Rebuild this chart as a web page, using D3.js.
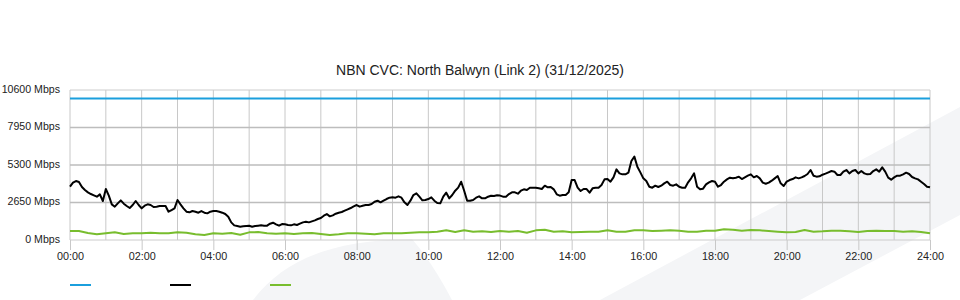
<!DOCTYPE html>
<html>
<head>
<meta charset="utf-8">
<script src="https://cdn.jsdelivr.net/npm/d3@7"></script>
<style>
  body { margin: 0; background: #fff; }
  svg { display: block; font-family: "Liberation Sans", Arial, sans-serif; }
</style>
</head>
<body>
<svg id="chart" width="960" height="300"></svg>
<script>
// chart data
var title = "NBN CVC: North Balwyn (Link 2) (31/12/2025)";

var xTickMinutes = [0, 120, 240, 360, 480, 600, 720, 840, 960, 1080, 1200, 1320, 1440];
var xTickLabels = ["00:00", "02:00", "04:00", "06:00", "08:00", "10:00", "12:00",
                   "14:00", "16:00", "18:00", "20:00", "22:00", "24:00"];
var yTicks = [0, 2650, 5300, 7950, 10600];

// link capacity (Mbps), flat all day
var capacityMinutes = [0, 1440];
var capacity = [10000, 10000];

// download traffic (Mbps), one sample every 5 minutes
var downStep = 5;
var download = [
  3768, 4051, 4169, 4098, 3744, 3532, 3368, 3250, 3156, 3061, 3226, 2755, 3603, 3132, 2520, 2355,
  2590, 2802, 2567, 2402, 2260, 2472, 2755, 2472, 2237, 2425, 2520, 2472, 2331, 2355, 2402, 2402,
  2402, 2001, 2119, 2237, 2826, 2520, 2237, 2001, 1954, 2048, 2001, 1930, 2048, 1930, 1883, 2001, 2048,
  2048, 2001, 1930, 1836, 1648, 1247, 1035, 988, 941, 965, 988, 1012, 941, 988, 1012, 1035,
  1012, 1012, 1153, 1224, 1106, 1012, 1130, 1106, 1059, 1035, 1106, 1059, 1153, 1247, 1294, 1247,
  1318, 1389, 1483, 1554, 1718, 1836, 1671, 1742, 1860, 1930, 1977, 2072, 2166, 2260, 2378, 2472,
  2355, 2425, 2472, 2472, 2543, 2708, 2778, 2661, 2778, 2896, 2991, 3014, 2991, 3085, 2991, 2661,
  2472, 2778, 3179, 3297, 3061, 2802, 2826, 2896, 3014, 2778, 2614, 2590, 3061, 3344, 2944, 3179,
  3485, 3700, 4120, 3480, 2778, 2778, 2826, 2991, 3085, 2944, 2944, 3061, 3132, 3109, 3156, 3140,
  3061, 3061, 3250, 3368, 3368, 3273, 3485, 3580, 3532, 3697, 3697, 3697, 3650, 3603, 3839, 3721,
  3744, 3580, 3226, 3132, 3179, 3179, 3368, 4239, 4239, 3697, 3462, 3603, 3603, 3344, 3650, 3697,
  3697, 3886, 4286, 4310, 4121, 4428, 4993, 4710, 4640, 4640, 4757, 5582, 5890, 5182, 4781, 4357,
  4168, 3768, 3697, 3839, 3744, 3839, 4004, 4121, 3886, 3839, 3933, 3768, 3697, 3697, 4074, 4357,
  4710, 3768, 3580, 3627, 3933, 4074, 4168, 4121, 3768, 3886, 4121, 4286, 4404, 4357, 4404, 4475,
  4310, 4428, 4545, 4640, 4428, 4522, 4357, 4051, 3980, 4051, 4192, 4357, 4522, 4004, 3815, 4121,
  4239, 4310, 4428, 4357, 4428, 4522, 4663, 4946, 4545, 4475, 4498, 4616, 4687, 4781, 4875, 4828,
  4592, 4592, 4828, 4946, 4710, 4875, 4946, 4710, 4875, 4710, 4640, 4663, 4875, 4993, 4828, 5135,
  4828, 4404, 4263, 4428, 4545, 4545, 4640, 4757, 4663, 4451, 4357, 4286, 4121, 3957, 3768, 3721
];

// upload traffic (Mbps), one sample every 15 minutes
var upStep = 15;
var upload = [
  635, 635, 493, 399, 470, 540, 423, 470, 470, 517, 470, 470, 540, 517, 399, 352, 470,
  446, 493, 376, 540, 560, 470, 446, 470, 423, 470, 493, 423, 352, 399, 470, 470,
  446, 399, 470, 470, 470, 517, 540, 540, 588, 682, 564, 682, 588, 611, 564, 635,
  588, 635, 517, 682, 729, 588, 611, 540, 564, 588, 588, 682, 588, 588, 682, 682,
  635, 658, 682, 658, 588, 588, 658, 658, 752, 729, 658, 705, 682, 635, 588, 540,
  564, 705, 588, 611, 658, 658, 611, 564, 635, 658, 635, 635, 588, 611, 564, 470
];

var colors = ["#1b9fdd", "#000000", "#78bd2e"];

(function () {
  var svg = d3.select("#chart");
  var plotLeft = 70, plotRight = 930, plotTop = 90, plotBottom = 240;

  var x = d3.scaleLinear().domain([0, 1440]).range([plotLeft, plotRight]);
  var y = d3.scaleLinear().domain([0, 10600]).range([plotBottom, plotTop]);

  // faint background swooshes
  var bg = svg.append("g").attr("fill", "#f4f5f7");
  bg.append("path").attr("d", "M253,300 C285,258 335,240 412,239 Q432,262 452,300 Z");
  bg.append("path").attr("d", "M600,300 L960,107 L960,215 L800,300 Z");

  // title
  svg.append("text")
     .attr("x", 480)
     .attr("y", 75)
     .attr("text-anchor", "middle")
     .style("font-size", "14px")
     .style("fill", "#222")
     .text(title);

  // hourly vertical grid
  var grid = svg.append("g");
  grid.selectAll("line.v")
      .data(d3.range(0, 1441, 60))
      .enter()
      .append("line")
      .attr("class", "v")
      .attr("x1", function (d) { return x(d); })
      .attr("x2", function (d) { return x(d); })
      .attr("y1", plotTop)
      .attr("y2", plotBottom)
      .attr("stroke", "#c8c8c8")
      .attr("stroke-width", 1);

  // horizontal grid
  grid.selectAll("line.h")
      .data(yTicks)
      .enter()
      .append("line")
      .attr("class", "h")
      .attr("x1", plotLeft)
      .attr("x2", plotRight)
      .attr("y1", function (d) { return y(d); })
      .attr("y2", function (d) { return y(d); })
      .attr("stroke", function (d, i) { return (i == 0 || i == yTicks.length - 1) ? "#cccccc" : "#bdbdbd"; })
      .attr("stroke-width", function (d, i) { return (i == 0 || i == yTicks.length - 1) ? 1 : 1.6; });

  // axes
  var xAxis = svg.append("g")
     .attr("transform", "translate(0," + plotBottom + ")")
     .call(d3.axisBottom(x)
            .tickValues(xTickMinutes)
            .tickSize(10)
            .tickPadding(3)
            .tickFormat(function (d, i) { return xTickLabels[i]; }));

  var yAxis = svg.append("g")
     .attr("transform", "translate(" + plotLeft + ",0)")
     .call(d3.axisLeft(y)
            .tickValues(yTicks)
            .tickSize(0)
            .tickPadding(10)
            .tickFormat(function (d) { return d + " Mbps"; }));

  svg.selectAll(".domain").remove();
  svg.selectAll(".tick line").attr("stroke", "#c8c8c8");
  svg.selectAll(".tick text")
     .style("font-family", "'Liberation Sans', Arial, sans-serif")
     .style("fill", "#222");
  xAxis.selectAll(".tick text").style("font-size", "10.8px").attr("dy", "0.62em");
  yAxis.selectAll(".tick text").style("font-size", "10.6px").attr("dy", "0.2em");

  // series lines
  var line = d3.line()
               .x(function (d) { return x(d[0]); })
               .y(function (d) { return y(d[1]); });

  var capData = capacity.map(function (v, i) { return [capacityMinutes[i], v]; });
  var downData = download.map(function (v, i) { return [i * downStep, v]; });
  var upData = upload.map(function (v, i) { return [i * upStep, v]; });

  [capData, downData, upData].forEach(function (data, i) {
    svg.append("path")
       .datum(data)
       .attr("d", line)
       .attr("fill", "none")
       .attr("stroke", colors[i])
       .attr("stroke-width", 2)
       .attr("stroke-linejoin", "round");
  });

  // legend swatches (no labels in the source)
  svg.selectAll("line.legend")
     .data(colors)
     .enter()
     .append("line")
     .attr("class", "legend")
     .attr("x1", function (d, i) { return 70 + i * 100; })
     .attr("x2", function (d, i) { return 91 + i * 100; })
     .attr("y1", 285)
     .attr("y2", 285)
     .attr("stroke", function (d) { return d; })
     .attr("stroke-width", 2);
})();
</script>
</body>
</html>
